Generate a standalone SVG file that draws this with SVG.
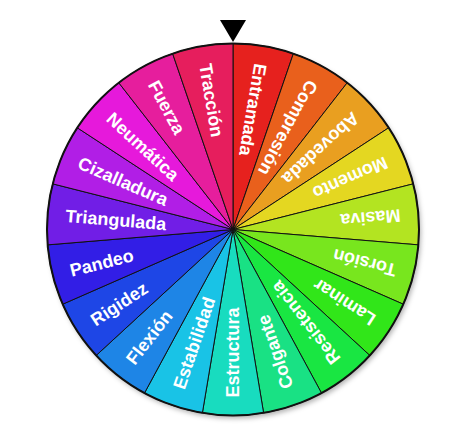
<svg xmlns="http://www.w3.org/2000/svg" width="467" height="435" viewBox="0 0 467 435">
<style>
.lbl{font-family:"Liberation Sans",Arial,Helvetica,sans-serif;font-weight:bold;font-size:18px;fill:#fff}
.seg{stroke:#111;stroke-width:1}
</style>
<defs>
<filter id="sh" x="-10%" y="-10%" width="125%" height="125%">
<feDropShadow dx="2" dy="3" stdDeviation="2.5" flood-color="#000" flood-opacity="0.3"/>
</filter>
</defs>
<rect width="467" height="435" fill="#fff"/>
<circle cx="233" cy="229.5" r="186" fill="#fff" filter="url(#sh)"/>
<g id="segments">
<g id="s0"><path class="seg" fill="hsl(1,80%,51%)" d="M233 229.5L233 43.5A186 186 0 0 1 293.39 53.58Z"/></g>
<g id="s1"><path class="seg" fill="hsl(20,82%,51%)" d="M233 229.5L293.39 53.58A186 186 0 0 1 347.24 82.72Z"/></g>
<g id="s2"><path class="seg" fill="hsl(38,82%,52%)" d="M233 229.5L347.24 82.72A186 186 0 0 1 388.71 127.77Z"/></g>
<g id="s3"><path class="seg" fill="hsl(56,78%,51%)" d="M233 229.5L388.71 127.77A186 186 0 0 1 413.31 183.84Z"/></g>
<g id="s4"><path class="seg" fill="hsl(75,78%,51%)" d="M233 229.5L413.31 183.84A186 186 0 0 1 418.36 244.86Z"/></g>
<g id="s5"><path class="seg" fill="hsl(93,80%,51%)" d="M233 229.5L418.36 244.86A186 186 0 0 1 403.33 304.22Z"/></g>
<g id="s6"><path class="seg" fill="hsl(113,80%,50%)" d="M233 229.5L403.33 304.22A186 186 0 0 1 369.84 355.47Z"/></g>
<g id="s7"><path class="seg" fill="hsl(132,80%,50%)" d="M233 229.5L369.84 355.47A186 186 0 0 1 321.53 393.08Z"/></g>
<g id="s8"><path class="seg" fill="hsl(152,80%,49%)" d="M233 229.5L321.53 393.08A186 186 0 0 1 263.61 412.96Z"/></g>
<g id="s9"><path class="seg" fill="hsl(171,80%,48%)" d="M233 229.5L263.61 412.96A186 186 0 0 1 202.39 412.96Z"/></g>
<g id="s10"><path class="seg" fill="hsl(190,80%,50%)" d="M233 229.5L202.39 412.96A186 186 0 0 1 144.47 393.08Z"/></g>
<g id="s11"><path class="seg" fill="hsl(209,80%,51%)" d="M233 229.5L144.47 393.08A186 186 0 0 1 96.16 355.47Z"/></g>
<g id="s12"><path class="seg" fill="hsl(228,80%,51%)" d="M233 229.5L96.16 355.47A186 186 0 0 1 62.67 304.22Z"/></g>
<g id="s13"><path class="seg" fill="hsl(246,80%,51%)" d="M233 229.5L62.67 304.22A186 186 0 0 1 47.64 244.86Z"/></g>
<g id="s14"><path class="seg" fill="hsl(265,80%,51%)" d="M233 229.5L47.64 244.86A186 186 0 0 1 52.69 183.84Z"/></g>
<g id="s15"><path class="seg" fill="hsl(284,80%,51%)" d="M233 229.5L52.69 183.84A186 186 0 0 1 77.29 127.77Z"/></g>
<g id="s16"><path class="seg" fill="hsl(303,80%,50%)" d="M233 229.5L77.29 127.77A186 186 0 0 1 118.76 82.72Z"/></g>
<g id="s17"><path class="seg" fill="hsl(322,80%,51%)" d="M233 229.5L118.76 82.72A186 186 0 0 1 172.61 53.58Z"/></g>
<g id="s18"><path class="seg" fill="hsl(341,80%,51%)" d="M233 229.5L172.61 53.58A186 186 0 0 1 233 43.5Z"/></g>
</g>
<circle cx="233" cy="229.5" r="186" fill="none" stroke="#111" stroke-width="2"/>
<g id="labels">
<text class="lbl" x="65" y="229.5" dy="0.35em" transform="rotate(99.474 233 229.5)">Entramada</text>
<text class="lbl" x="65" y="229.5" dy="0.35em" transform="rotate(118.421 233 229.5)">Compresión</text>
<text class="lbl" x="65" y="229.5" dy="0.35em" transform="rotate(137.368 233 229.5)">Abovedada</text>
<text class="lbl" x="65" y="229.5" dy="0.35em" transform="rotate(156.316 233 229.5)">Momento</text>
<text class="lbl" x="65" y="229.5" dy="0.35em" transform="rotate(175.263 233 229.5)">Masiva</text>
<text class="lbl" x="65" y="229.5" dy="0.35em" transform="rotate(194.211 233 229.5)">Torsión</text>
<text class="lbl" x="65" y="229.5" dy="0.35em" transform="rotate(213.158 233 229.5)">Laminar</text>
<text class="lbl" x="65" y="229.5" dy="0.35em" transform="rotate(232.105 233 229.5)">Resistencia</text>
<text class="lbl" x="65" y="229.5" dy="0.35em" transform="rotate(251.053 233 229.5)">Colgante</text>
<text class="lbl" x="65" y="229.5" dy="0.35em" transform="rotate(270 233 229.5)">Estructura</text>
<text class="lbl" x="65" y="229.5" dy="0.35em" transform="rotate(288.947 233 229.5)">Estabilidad</text>
<text class="lbl" x="65" y="229.5" dy="0.35em" transform="rotate(307.895 233 229.5)">Flexión</text>
<text class="lbl" x="65" y="229.5" dy="0.35em" transform="rotate(326.842 233 229.5)">Rigidez</text>
<text class="lbl" x="65" y="229.5" dy="0.35em" transform="rotate(345.789 233 229.5)">Pandeo</text>
<text class="lbl" x="65" y="229.5" dy="0.35em" transform="rotate(4.737 233 229.5)">Triangulada</text>
<text class="lbl" x="65" y="229.5" dy="0.35em" transform="rotate(23.684 233 229.5)">Cizalladura</text>
<text class="lbl" x="65" y="229.5" dy="0.35em" transform="rotate(42.632 233 229.5)">Neumática</text>
<text class="lbl" x="65" y="229.5" dy="0.35em" transform="rotate(61.579 233 229.5)">Fuerza</text>
<text class="lbl" x="65" y="229.5" dy="0.35em" transform="rotate(80.526 233 229.5)">Tracción</text>
</g>
<g id="pointer"><polygon points="220,20 246,20 233,42" fill="#000"/></g>
</svg>
